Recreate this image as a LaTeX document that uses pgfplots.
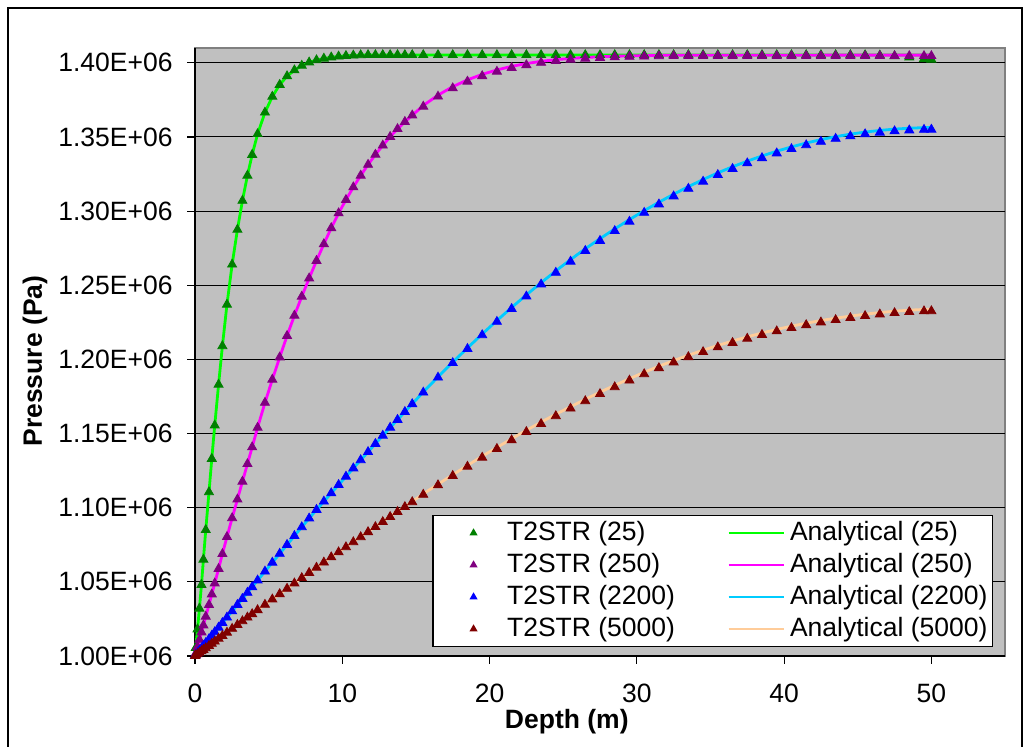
\documentclass[border=0pt]{standalone}
\usepackage{pgfplots}
\pgfplotsset{compat=1.18}
\usepackage{pgfplotstable}
\usepackage{fontspec}
\setmainfont{Liberation Sans}
\definecolor{t25}{RGB}{0,128,0}
\definecolor{t250}{RGB}{128,0,128}
\definecolor{t2200}{RGB}{0,0,255}
\definecolor{t5000}{RGB}{128,0,0}
\definecolor{a25}{RGB}{0,255,0}
\definecolor{a250}{RGB}{255,0,255}
\definecolor{a2200}{RGB}{0,204,255}
\definecolor{a5000}{RGB}{255,204,153}
\definecolor{bgc}{RGB}{192,192,192}
\definecolor{frm}{RGB}{128,128,128}

% z (m); pressures in units of 1E+06 Pa
% g = T2STR(25), ga = Analytical(25), p = 250, b = 2200, r = 5000
\pgfplotstableread{
z g ga p pa b ba r ra
0 1.0000 1.0000 1.0000 1.0000 1.0000 1.0000 1.0000 1.0000
0.05 1.0055 1.0055 1.0018 1.0018 1.0006 1.0006 1.0004 1.0004
0.17 1.0180 1.0180 1.0062 1.0062 1.0020 1.0020 1.0012 1.0012
0.3 1.0320 1.0320 1.0110 1.0110 1.0036 1.0036 1.0022 1.0022
0.44 1.0480 1.0480 1.0160 1.0160 1.0053 1.0053 1.0032 1.0032
0.57 1.0650 1.0650 1.0207 1.0207 1.0068 1.0068 1.0042 1.0042
0.73 1.0850 1.0850 1.0266 1.0266 1.0088 1.0088 1.0053 1.0053
0.95 1.1105 1.1105 1.0345 1.0345 1.0114 1.0114 1.0069 1.0069
1.14 1.1330 1.1330 1.0416 1.0416 1.0137 1.0137 1.0083 1.0083
1.34 1.1555 1.1555 1.0490 1.0490 1.0161 1.0161 1.0098 1.0098
1.6 1.1830 1.1830 1.0588 1.0588 1.0192 1.0192 1.0117 1.0117
1.86 1.2090 1.2090 1.0688 1.0688 1.0223 1.0223 1.0136 1.0136
2.17 1.2370 1.2370 1.0803 1.0803 1.0260 1.0260 1.0158 1.0158
2.52 1.2640 1.2640 1.0930 1.0930 1.0302 1.0302 1.0184 1.0184
2.88 1.2875 1.2875 1.1056 1.1056 1.0345 1.0345 1.0210 1.0210
3.22 1.3070 1.3070 1.1176 1.1176 1.0386 1.0386 1.0235 1.0235
3.56 1.3240 1.3240 1.1295 1.1295 1.0427 1.0427 1.0260 1.0260
3.88 1.3380 1.3380 1.1408 1.1408 1.0465 1.0465 1.0283 1.0283
4.25 1.3520 1.3520 1.1540 1.1540 1.0510 1.0510 1.0310 1.0310
4.75 1.3665 1.3665 1.1708 1.1708 1.0570 1.0570 1.0346 1.0346
5.25 1.3772 1.3772 1.1864 1.1864 1.0630 1.0630 1.0382 1.0382
5.75 1.3852 1.3852 1.2014 1.2014 1.0690 1.0690 1.0418 1.0418
6.25 1.3910 1.3910 1.2159 1.2159 1.0750 1.0750 1.0454 1.0454
6.75 1.3950 1.3950 1.2296 1.2296 1.0810 1.0810 1.0490 1.0490
7.25 1.3981 1.3981 1.2424 1.2424 1.0869 1.0869 1.0526 1.0526
7.75 1.4003 1.4003 1.2547 1.2547 1.0928 1.0928 1.0561 1.0561
8.25 1.4018 1.4018 1.2665 1.2665 1.0986 1.0986 1.0596 1.0596
8.75 1.4029 1.4029 1.2778 1.2778 1.1042 1.1042 1.0631 1.0631
9.25 1.4037 1.4037 1.2886 1.2886 1.1098 1.1098 1.0666 1.0666
9.75 1.4043 1.4043 1.2986 1.2986 1.1154 1.1154 1.0700 1.0700
10.25 1.4047 1.4047 1.3076 1.3076 1.1210 1.1210 1.0734 1.0736
10.75 1.4050 1.4050 1.3161 1.3161 1.1266 1.1266 1.0768 1.0770
11.25 1.4052 1.4052 1.3240 1.3240 1.1321 1.1321 1.0802 1.0805
11.75 1.4053 1.4053 1.3313 1.3313 1.1376 1.1376 1.0836 1.0839
12.25 1.4053 1.4053 1.3381 1.3381 1.1431 1.1431 1.0870 1.0873
12.75 1.4053 1.4053 1.3443 1.3443 1.1486 1.1486 1.0904 1.0907
13.25 1.4053 1.4053 1.3501 1.3501 1.1540 1.1540 1.0938 1.0942
13.75 1.4053 1.4053 1.3554 1.3554 1.1593 1.1593 1.0972 1.0976
14.25 1.4053 1.4053 1.3602 1.3602 1.1646 1.1646 1.1005 1.1009
14.75 1.4053 1.4053 1.3646 1.3646 1.1699 1.1700 1.1038 1.1042
15.5 1.4053 1.4053 1.3705 1.3712 1.1777 1.1780 1.1088 1.1093
16.5 1.4053 1.4053 1.3773 1.3782 1.1878 1.1882 1.1152 1.1158
17.5 1.4053 1.4053 1.3829 1.3839 1.1976 1.1981 1.1215 1.1222
18.5 1.4053 1.4053 1.3874 1.3885 1.2071 1.2077 1.1277 1.1285
19.5 1.4053 1.4053 1.3911 1.3922 1.2164 1.2171 1.1338 1.1347
20.5 1.4053 1.4053 1.3941 1.3952 1.2254 1.2262 1.1397 1.1406
21.5 1.4053 1.4053 1.3966 1.3976 1.2341 1.2350 1.1455 1.1465
22.5 1.4053 1.4053 1.3985 1.3995 1.2425 1.2435 1.1511 1.1522
23.5 1.4053 1.4053 1.4001 1.4010 1.2506 1.2517 1.1565 1.1577
24.5 1.4053 1.4053 1.4013 1.4021 1.2585 1.2597 1.1618 1.1630
25.5 1.4053 1.4053 1.4022 1.4030 1.2660 1.2673 1.1669 1.1681
26.5 1.4053 1.4053 1.4029 1.4036 1.2732 1.2746 1.1719 1.1731
27.5 1.4053 1.4053 1.4034 1.4041 1.2800 1.2814 1.1767 1.1779
28.5 1.4053 1.4053 1.4038 1.4044 1.2866 1.2880 1.1813 1.1825
29.5 1.4053 1.4053 1.4041 1.4047 1.2929 1.2943 1.1858 1.1870
30.5 1.4053 1.4053 1.4043 1.4049 1.2989 1.3003 1.1901 1.1913
31.5 1.4053 1.4053 1.4045 1.4050 1.3046 1.3060 1.1942 1.1954
32.5 1.4053 1.4053 1.4046 1.4051 1.3100 1.3114 1.1980 1.1992
33.5 1.4053 1.4053 1.4046 1.4051 1.3151 1.3165 1.2016 1.2028
34.5 1.4053 1.4053 1.4046 1.4051 1.3199 1.3213 1.2050 1.2062
35.5 1.4053 1.4053 1.4046 1.4051 1.3244 1.3258 1.2082 1.2094
36.5 1.4053 1.4053 1.4046 1.4051 1.3285 1.3299 1.2112 1.2124
37.5 1.4053 1.4053 1.4046 1.4051 1.3323 1.3337 1.2140 1.2152
38.5 1.4053 1.4053 1.4046 1.4051 1.3358 1.3372 1.2166 1.2178
39.5 1.4053 1.4053 1.4046 1.4051 1.3390 1.3404 1.2190 1.2202
40.5 1.4053 1.4053 1.4046 1.4051 1.3419 1.3433 1.2212 1.2224
41.5 1.4053 1.4053 1.4046 1.4051 1.3445 1.3459 1.2232 1.2244
42.5 1.4053 1.4053 1.4046 1.4052 1.3468 1.3482 1.2250 1.2262
43.5 1.4053 1.4053 1.4046 1.4052 1.3488 1.3502 1.2266 1.2278
44.5 1.4053 1.4053 1.4046 1.4052 1.3505 1.3519 1.2280 1.2292
45.5 1.4052 1.4053 1.4046 1.4052 1.3519 1.3533 1.2293 1.2305
46.5 1.4050 1.4053 1.4046 1.4052 1.3530 1.3544 1.2304 1.2316
47.5 1.4045 1.4053 1.4046 1.4052 1.3539 1.3553 1.2313 1.2325
48.5 1.4037 1.4053 1.4046 1.4052 1.3545 1.3559 1.2320 1.2332
49.5 1.4027 1.4053 1.4046 1.4052 1.3549 1.3563 1.2325 1.2337
50 1.4022 1.4053 1.4046 1.4052 1.3550 1.3564 1.2326 1.2338
}\data

\pgfplotsset{
  mk/.style={only marks, mark=triangle*, mark size=2.6pt, color=#1, mark options={solid, fill=#1, draw=#1}},
  ln/.style={no marks, color=#1, line width=1.4pt},
  markleg/.style={legend image code/.code={\path (0pt,0pt) (34pt,0pt); \draw[##1, mark size=1.8pt] plot coordinates {(20pt,0pt)};}},
  lineleg/.style={legend image code/.code={\draw[##1] (0pt,0pt) -- (27.5pt,0pt);}},
}

\begin{document}
\begin{tikzpicture}
\useasboundingbox (0pt,0pt) rectangle (515.5pt,373.5pt);
\draw[black, line width=0.6pt] (4pt,-5pt) rectangle (511pt,369.5pt);
\begin{axis}[
  at={(97.5pt,45.5pt)}, anchor=south west,
  scale only axis, width=405pt, height=304pt,
  xmin=0, xmax=55, ymin=1.0, ymax=1.41,
  xtick={0,10,20,30,40,50},
  xticklabels={0,10,20,30,40,50},
  ytick={1,1.05,1.1,1.15,1.2,1.25,1.3,1.35,1.4},
  yticklabels={1.00E+06,1.05E+06,1.10E+06,1.15E+06,1.20E+06,1.25E+06,1.30E+06,1.35E+06,1.40E+06},
  axis lines*=left,
  axis line style={black, line width=0.6pt},
  axis background/.style={fill=bgc, draw=frm, line width=1.2pt},
  tick align=outside, major tick length=4pt,
  tick style={black, line width=0.6pt},
  ymajorgrids, grid style={black, line width=0.5pt},
  tick label style={font=\fontsize{13.25}{15}\selectfont},
  yticklabel style={anchor=east, inner sep=0pt, xshift=-7pt},
  xticklabel style={anchor=north, inner sep=0pt, yshift=-10pt},
  xlabel={Depth (m)}, ylabel={Pressure (Pa)},
  every axis x label/.style={at={(axis description cs:0.459,-0.1086)}, anchor=center, font=\fontsize{13.25}{15}\selectfont\bfseries},
  every axis y label/.style={at={(axis description cs:-0.1975,0.485)}, anchor=center, rotate=90, font=\fontsize{13.25}{15}\selectfont\bfseries},
  clip=false,
  legend columns=2,
  legend cell align=left,
  legend style={at={(axis description cs:0.9852,0.2319)}, anchor=north east,
    draw=black, line width=0.6pt, fill=white, inner xsep=0pt, inner ysep=0.75pt,
    font=\fontsize{13.25}{15}\selectfont,
    nodes={inner xsep=2.5pt, inner ysep=2pt, text height=9.5pt, text depth=2.5pt},
    /tikz/every even column/.append style={column sep=23.6pt}},
]
\addlegendimage{mk=t25, markleg}\addlegendentry{T2STR (25)}
\addlegendimage{ln=a25, lineleg}\addlegendentry{Analytical (25)}
\addlegendimage{mk=t250, markleg}\addlegendentry{T2STR (250)}
\addlegendimage{ln=a250, lineleg}\addlegendentry{Analytical (250)}
\addlegendimage{mk=t2200, markleg}\addlegendentry{T2STR (2200)}
\addlegendimage{ln=a2200, lineleg}\addlegendentry{Analytical (2200)}
\addlegendimage{mk=t5000, markleg}\addlegendentry{T2STR (5000)}
\addlegendimage{ln=a5000, lineleg}\addlegendentry{Analytical (5000)}

\addplot[ln=a25, forget plot] table[x=z, y=ga] {\data};
\addplot[ln=a250, forget plot] table[x=z, y=pa] {\data};
\addplot[ln=a2200, forget plot] table[x=z, y=ba] {\data};
\addplot[ln=a5000, forget plot] table[x=z, y=ra] {\data};

\addplot[mk=t25, forget plot] table[x=z, y=g] {\data};
\addplot[mk=t250, forget plot] table[x=z, y=p] {\data};
\addplot[mk=t2200, forget plot] table[x=z, y=b] {\data};
\addplot[mk=t5000, forget plot] table[x=z, y=r] {\data};
\end{axis}
\end{tikzpicture}
\end{document}
